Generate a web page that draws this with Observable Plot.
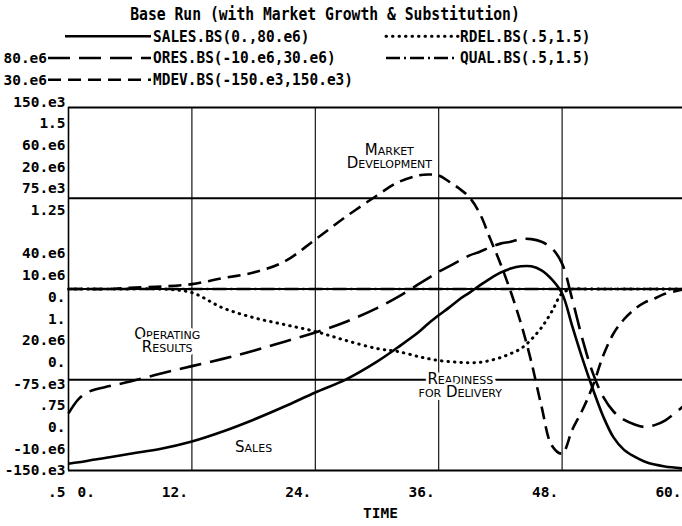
<!DOCTYPE html>
<html>
<head>
<meta charset="utf-8">
<script src="https://cdn.jsdelivr.net/npm/d3@7"></script>
<script src="https://cdn.jsdelivr.net/npm/@observablehq/plot@0.6"></script>
<style>
  html, body { margin: 0; padding: 0; background: #fff; }
  #wrap { position: relative; width: 682px; height: 526px; overflow: hidden; }
  #wrap > svg { position: absolute; left: 0; top: 0; }
</style>
</head>
<body>
<div id="wrap"></div>
<script>
// ---------- data ----------
const title = "Base Run (with Market Growth & Substitution)";
const time = [0,1,2,4,6,9,12,15,18,21,24,27,30,32,34,35,36,37,38,39,40,41,42,43,44,45,46,47,48,49,50,51,52,53,54,55,56,57,58,60];
const sales = [1.5e6,1.8e6,2.2e6,2.9e6,3.7e6,4.8e6,6.4e6,8.6e6,11.2e6,14.1e6,
               17.2e6,20.1e6,24.0e6,27.1e6,30.4e6,32.4e6,34.2e6,35.9e6,37.7e6,39.2e6,
               40.8e6,42.3e6,43.6e6,44.5e6,45.0e6,45.0e6,44.1e6,42.1e6,39.0e6,31.7e6,
               24.5e6,17.9e6,11.9e6,7.3e6,4.6e6,3.1e6,2.0e6,1.3e6,0.9e6,0.4e6];
const ores = [-3.7e6,-2.1e6,-1.3e6,-0.7e6,-0.2e6,0.7e6,1.5e6,2.3e6,3.2e6,4.2e6,
              5.2e6,6.4e6,7.9e6,9.1e6,10.5e6,11.2e6,11.9e6,12.5e6,13.1e6,13.7e6,
              14.1e6,14.6e6,15.0e6,15.2e6,15.5e6,15.5e6,15.2e6,14.5e6,12.8e6,8.8e6,
              4.4e6,0.7e6,-1.9e6,-3.5e6,-4.4e6,-4.9e6,-5.2e6,-5.0e6,-4.5e6,-2.7e6];
const mdev = [0,0,0,0,1e3,2e3,4e3,9e3,13.6e3,22.7e3,
              40.9e3,59.9e3,77.3e3,88.0e3,93.8e3,94.6e3,93.8e3,88.8e3,83.0e3,75.6e3,
              62.4e3,41.7e3,21.1e3,-2.1e3,-28.5e3,-59.9e3,-97.1e3,-129.3e3,-136.0e3,-116.1e3,
              -99.6e3,-79.8e3,-55.0e3,-36.8e3,-25.2e3,-17.0e3,-11.2e3,-7.9e3,-4e3,0];
const rdel = [1,1,1,1,1,1,0.99,0.948,0.921,0.902,
              0.883,0.858,0.836,0.828,0.814,0.808,0.803,0.800,0.798,0.797,
              0.798,0.803,0.811,0.822,0.836,0.861,0.894,0.938,0.988,1,
              1,1,1,1,1,1,1,1,1,1];
const qual = [1,1,1,1,1,1,1,1,1,1, 1,1,1,1,1,1,1,1,1,1,
              1,1,1,1,1,1,1,1,1,1, 1,1,1,1,1,1,1,1,1,1];

const salesRange = [0, 80e6];
const oresRange = [-10e6, 30e6];
const mdevRange = [-150e3, 150e3];
const rdelRange = [0.5, 1.5];
const qualRange = [0.5, 1.5];

const salesTicks = ["0.", "20.e6", "40.e6", "60.e6", "80.e6"];
const oresTicks = ["-10.e6", "0.", "10.e6", "20.e6", "30.e6"];
const mdevTicks = ["-150.e3", "-75.e3", "0.", "75.e3", "150.e3"];
const rdelTicks = [".5", ".75", "1.", "1.25", "1.5"];
const gridFractions = [0, 0.25, 0.5, 0.75, 1];

const timeTicks = [0, 12, 24, 36, 48, 60];
const timeTickLabels = ["0.", "12.", "24.", "36.", "48.", "60."];
const timeLabel = "TIME";

const legendNames = ["SALES.BS(0.,80.e6)", "ORES.BS(-10.e6,30.e6)", "MDEV.BS(-150.e3,150.e3)", "RDEL.BS(.5,1.5)", "QUAL.BS(.5,1.5)"];

const annotationLabels = ["Market\nDevelopment", "Operating\nResults", "Readiness\nfor Delivery", "Sales"];
const annotationTime = [31.2, 9.6, 38.1, 18.0];
const annotationFrac = [0.862, 0.355, 0.231, 0.063];

// ---------- styles ----------
const dashes = {SALES: null, ORES: "22 9", MDEV: "13 7", RDEL: "0.5 6", QUAL: "14 4 2 4"};
const monoFont = "'DejaVu Sans Mono', 'Liberation Mono', monospace";
const charPitch = 8.7;
const monoSize = charPitch / 0.602;      // natural advance = printer column pitch
const stretchY = 16.5 / monoSize;        // tall printer glyphs

// ---------- build tables ----------
const seriesDefs = [
  {name: "SALES", values: sales, range: salesRange},
  {name: "ORES", values: ores, range: oresRange},
  {name: "MDEV", values: mdev, range: mdevRange},
  {name: "RDEL", values: rdel, range: rdelRange},
  {name: "QUAL", values: qual, range: qualRange}
];
const rows = seriesDefs.flatMap(s => time.map((t, i) => ({
  series: s.name, t, f: (s.values[i] - s.range[0]) / (s.range[1] - s.range[0])
})));

const xScaleOpts = {domain: [0, 60], range: [68, 685]};
const yScaleOpts = {domain: [0, 1], range: [470, 107]};
const yS = Plot.scale({y: yScaleOpts});

// printer-row layout for the stacked scale labels
const rowPitch = 21.7, rowOrigin = 58;
const rowY = r => rowOrigin + r * rowPitch;
function stackF(f, k) {
  const r = Math.round((yS.apply(f) - rowOrigin) / rowPitch) + k;
  return yS.invert(rowY(r));
}
const stacks = [salesTicks, oresTicks, mdevTicks, rdelTicks];
const stackRows = stacks.flatMap((ticks, s) => ticks.map((label, i) => ({
  label, f: gridFractions[i], k: s - 2, top: i === 4 && s < 2
})));

const annotations = annotationLabels.map((label, i) => ({label, t: annotationTime[i], f: annotationFrac[i]}));
const xTickRows = timeTicks.map((t, i) => ({t, label: timeTickLabels[i]}));

const lineMark = name => Plot.line(rows.filter(d => d.series === name), {
  x: "t", y: "f", stroke: "black",
  strokeWidth: name === "RDEL" ? 3 : 2.6,
  strokeDasharray: dashes[name] || undefined,
  strokeLinecap: name === "RDEL" ? "round" : "butt",
  curve: "catmull-rom"
});

const textCommon = {fontFamily: monoFont, fontWeight: "bold", fontSize: monoSize, fill: "black", lineAnchor: "middle", ariaLabel: "scalelabel"};

const chart = Plot.plot({
  width: 682,
  height: 526,
  marginLeft: 68,
  marginRight: 0,
  marginTop: 107,
  marginBottom: 56,
  x: {...xScaleOpts, axis: null},
  y: {...yScaleOpts, axis: null},
  style: {background: "white", color: "black", overflow: "visible"},
  marks: [
    Plot.ruleX(timeTicks.slice(1), {y1: 0, y2: 1, stroke: "black", strokeWidth: 1.1}),
    Plot.ruleX([0], {y1: 0, y2: 1, stroke: "black", strokeWidth: 1.6}),
    Plot.ruleY(gridFractions, {x1: 0, x2: 60, stroke: "black", strokeWidth: 2}),
    lineMark("QUAL"),
    lineMark("RDEL"),
    lineMark("MDEV"),
    lineMark("ORES"),
    lineMark("SALES"),
    Plot.text(annotations, {
      x: "t", y: "f", text: "label", ariaLabel: "annotation",
      fontFamily: "'DejaVu Sans', sans-serif", fontSize: 15, fontVariant: "small-caps",
      lineHeight: 0.87, lineAnchor: "middle", textAnchor: "middle",
      fill: "black", stroke: "white", strokeWidth: 6
    }),
    Plot.text(stackRows.filter(d => !d.top), {
      ...textCommon, frameAnchor: "left", y: d => stackF(d.f, d.k), text: "label",
      textAnchor: "end", dx: -3
    }),
    Plot.text(stackRows.filter(d => d.top), {
      ...textCommon, frameAnchor: "left", y: d => stackF(d.f, d.k), text: "label",
      textAnchor: "start", dx: -65
    }),
    Plot.text(xTickRows.slice(1), {
      ...textCommon, x: "t", frameAnchor: "bottom", text: "label", textAnchor: "end", dx: -4, dy: 22
    }),
    Plot.text(xTickRows.slice(0, 1), {
      ...textCommon, x: "t", frameAnchor: "bottom", text: "label", textAnchor: "start", dx: 9, dy: 22
    }),
    Plot.text([timeLabel], {
      ...textCommon, text: d => d, frameAnchor: "bottom", dx: 5, dy: 43
    })
  ]
});

const wrap = document.getElementById("wrap");
wrap.appendChild(chart);
const NS = "http://www.w3.org/2000/svg";

// tall printer-style glyphs: stretch each scale label vertically about its own anchor
chart.querySelectorAll('g[aria-label="scalelabel"] text').forEach(t => {
  const tr = t.getAttribute("transform") || "";
  t.setAttribute("transform", `${tr} scale(1,${stretchY.toFixed(3)})`);
});
// annotation labels: letter spacing + white box knocking out grid lines behind them
chart.querySelectorAll('g[aria-label="annotation"] text').forEach(t => {
  t.style.letterSpacing = "1px";
  const b = t.getBBox();
  const pad = 4;
  const r = document.createElementNS(NS, "rect");
  r.setAttribute("x", b.x - pad); r.setAttribute("y", b.y);
  r.setAttribute("width", b.width + 2 * pad); r.setAttribute("height", b.height);
  r.setAttribute("fill", "white");
  r.setAttribute("stroke", "none");
  const tr = t.getAttribute("transform");
  if (tr) r.setAttribute("transform", tr);
  t.parentNode.insertBefore(r, t);
});

// ---------- title + legend (overlay above the plot frame) ----------
const ov = document.createElementNS(NS, "svg");
ov.setAttribute("width", 682);
ov.setAttribute("height", 100);
ov.style.position = "absolute"; ov.style.left = "0"; ov.style.top = "0";
function addText(x, y, str, anchor, size, sy) {
  const t = document.createElementNS(NS, "text");
  t.setAttribute("transform", `translate(${x},${y}) scale(1,${sy.toFixed(3)})`);
  t.setAttribute("text-anchor", anchor);
  t.setAttribute("dominant-baseline", "central");
  t.setAttribute("font-family", monoFont);
  t.setAttribute("font-weight", "bold");
  t.setAttribute("font-size", size.toFixed(2));
  t.textContent = str;
  ov.appendChild(t);
}
function addLine(x1, x2, y, dash, round) {
  const l = document.createElementNS(NS, "line");
  l.setAttribute("x1", x1); l.setAttribute("x2", x2);
  l.setAttribute("y1", y); l.setAttribute("y2", y);
  l.setAttribute("stroke", "black");
  l.setAttribute("stroke-width", round ? 3 : 2.6);
  if (dash) l.setAttribute("stroke-dasharray", dash);
  l.setAttribute("stroke-linecap", round ? "round" : "butt");
  ov.appendChild(l);
}
const titleSize = 390 / (title.length * 0.602);
addText(325, rowY(-2), title, "middle", titleSize, 17 / titleSize);
const legendLayout = [
  {key: "SALES", x1: 65, x2: 151, tx: 153, r: -1},
  {key: "ORES", x1: 48, x2: 151, tx: 153, r: 0},
  {key: "MDEV", x1: 48, x2: 151, tx: 153, r: 1},
  {key: "RDEL", x1: 386, x2: 458, tx: 460, r: -1},
  {key: "QUAL", x1: 386, x2: 458, tx: 460, r: 0}
];
legendLayout.forEach((L, i) => {
  addLine(L.x1, L.x2, rowY(L.r), dashes[L.key], L.key === "RDEL");
  addText(L.tx, rowY(L.r), legendNames[i], "start", monoSize, stretchY);
});
wrap.appendChild(ov);
</script>
</body>
</html>
